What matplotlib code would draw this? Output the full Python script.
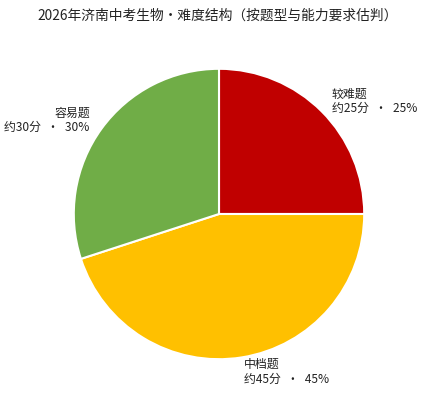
import matplotlib
matplotlib.use("Agg")
import matplotlib.pyplot as plt

plt.rcParams['font.family'] = ['Noto Sans CJK SC', 'DejaVu Sans']

categories = ["较难题", "中档题", "容易题"]
scores = [25, 45, 30]
percents = [25, 45, 30]
colors = ["#C00000", "#FFC000", "#70AD47"]
title = "2026年济南中考生物·难度结构（按题型与能力要求估判）"

labels = [f"{c}\n约{s}分\u2002·\u2002{p}%" for c, s, p in zip(categories, scores, percents)]

fig = plt.figure(figsize=(4.23, 4.07), dpi=100)
cx, cy, half = 219, 407 - 214, 181.5
ax = fig.add_axes([(cx - half) / 423, (cy - half) / 407, 2 * half / 423, 2 * half / 407])
ax.pie(percents, labels=labels, colors=colors, startangle=90, counterclock=False,
       wedgeprops=dict(edgecolor="white", linewidth=1.5),
       textprops=dict(fontsize=8.6, color="#222222", linespacing=1.15))
ax.set_aspect("equal")
fig.text(0.515, 0.961, title, ha="center", va="center", fontsize=9.9, color="#222222")
fig.savefig("out.png", dpi=100)
